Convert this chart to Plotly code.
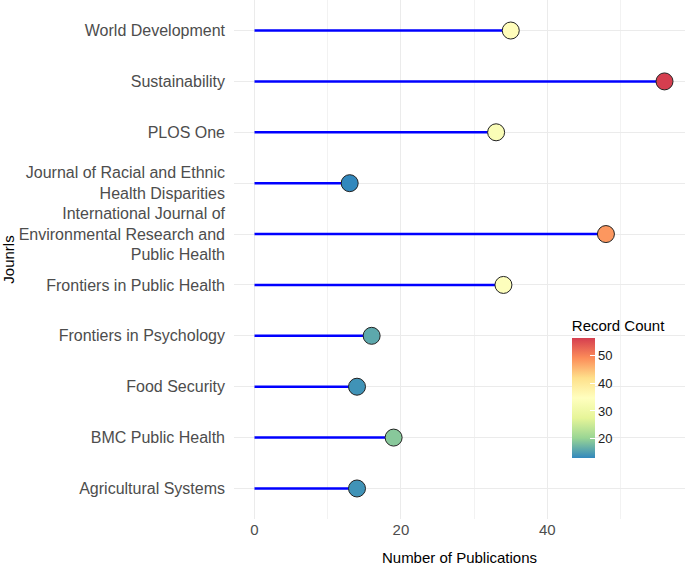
import plotly.graph_objects as go

journals = [
    "Agricultural Systems",
    "BMC Public Health",
    "Food Security",
    "Frontiers in Psychology",
    "Frontiers in Public Health",
    "International Journal of<br>Environmental Research and<br>Public Health",
    "Journal of Racial and Ethnic<br>Health Disparities",
    "PLOS One",
    "Sustainability",
    "World Development",
]
publications = [14, 19, 14, 16, 34, 48, 13, 33, 56, 35]

spectral_rev = [
    [0.0, "#3288bd"], [1/6, "#99d594"], [2/6, "#e6f598"], [3/6, "#ffffbf"],
    [4/6, "#fee08b"], [5/6, "#fc8d59"], [1.0, "#d53e4f"],
]

FONT = "Liberation Sans, Arial, sans-serif"

fig = go.Figure()

# stems
for j, v in zip(journals, publications):
    fig.add_trace(go.Scatter(
        x=[0, v], y=[j, j], mode="lines",
        line=dict(color="#0000ff", width=2.5),
        showlegend=False, hoverinfo="skip",
    ))

fig.add_trace(go.Scatter(
    x=publications, y=journals, mode="markers",
    cliponaxis=False,
    marker=dict(
        size=17, color=publications, colorscale=spectral_rev,
        cmin=min(publications), cmax=max(publications),
        line=dict(color="#222222", width=1),
        showscale=True,
        colorbar=dict(
            title=dict(text="Record Count", side="top",
                       font=dict(size=15, color="#000000", family=FONT)),
            thickness=23, thicknessmode="pixels",
            len=142, lenmode="pixels",
            x=0.749, xanchor="left", y=0.1167, yanchor="bottom",
            outlinewidth=0,
            tickvals=[20, 30, 40, 50],
            ticks="inside", ticklen=5, tickcolor="white", tickwidth=1,
            tickfont=dict(size=13, color="#222222", family=FONT),
            xpad=0, ypad=0,
        ),
    ),
    showlegend=False,
))

fig.update_layout(
    width=685, height=571,
    margin=dict(l=234, r=0, t=0, b=52),
    plot_bgcolor="white", paper_bgcolor="white",
    font=dict(family=FONT),
    xaxis=dict(
        range=[-2.8, 58.8], tickvals=[0, 20, 40],
        showgrid=True, gridcolor="#ebebeb", gridwidth=1.2,
        minor=dict(tickvals=[10, 30, 50], showgrid=True, gridcolor="#f2f2f2", gridwidth=0.8),
        zeroline=False, showline=False, ticks="",
        tickfont=dict(size=15, color="#4d4d4d"),
        title=dict(text="Number of Publications", font=dict(size=15, color="#000000"), standoff=15),
    ),
    yaxis=dict(
        categoryorder="array", categoryarray=journals,
        range=[-0.6, 9.6],
        showgrid=True, gridcolor="#ebebeb", gridwidth=1.2,
        zeroline=False, showline=False, ticks="",
        ticklabelstandoff=8,
        tickfont=dict(size=16, color="#4d4d4d"),
        title=dict(text="Jounrls", font=dict(size=15, color="#000000"), standoff=4),
    ),
)

fig.write_html("out.html", config={"displayModeBar": False},
               post_script="document.body.style.margin='0px';")
